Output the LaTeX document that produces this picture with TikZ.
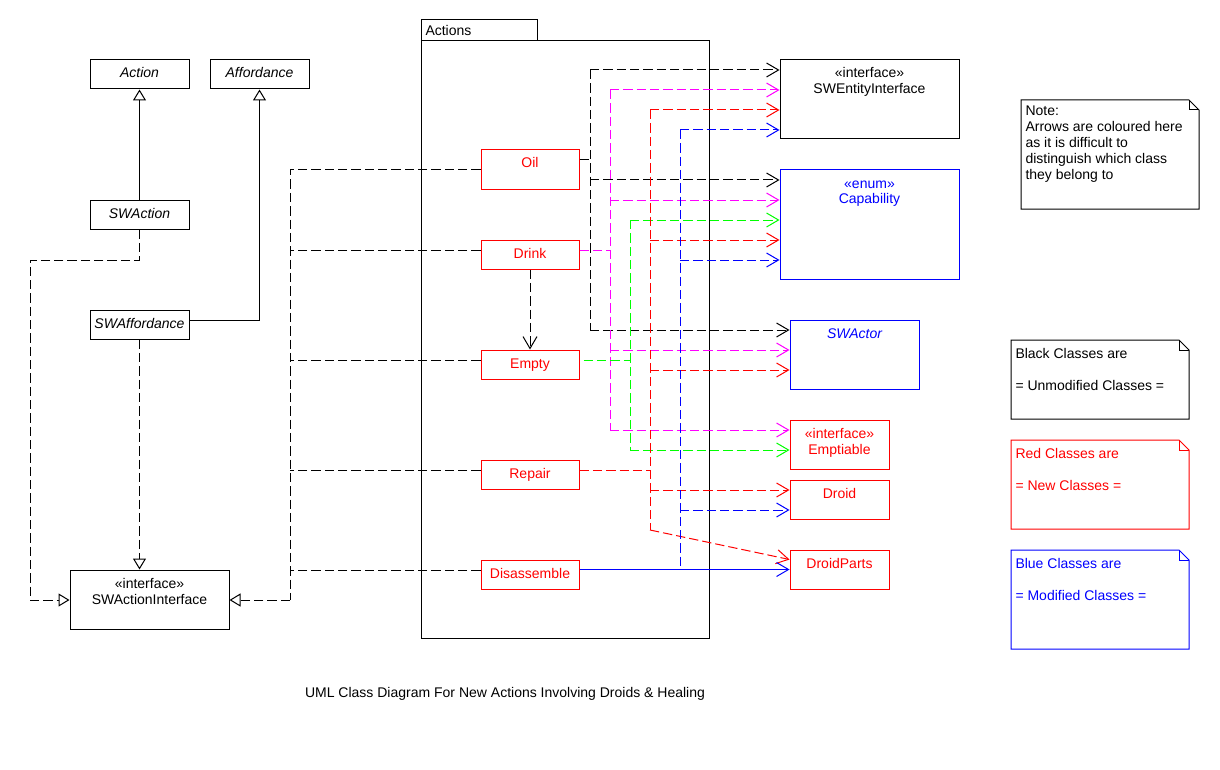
\documentclass[tikz,border=0pt]{standalone}
\usepackage{fontspec}
\setmainfont{Liberation Sans}
\usetikzlibrary{arrows.meta,fit}
\definecolor{mag}{RGB}{255,0,255}
\definecolor{grn}{RGB}{0,255,0}
\definecolor{rd}{RGB}{255,0,0}
\definecolor{bl}{RGB}{0,0,255}
\tikzset{
  box/.style={draw, inner sep=0pt, line width=0.75pt},
  rbox/.style={box, draw=rd},
  bbox/.style={box, draw=bl},
  txt/.style={inner sep=0pt, anchor=base},
  ltxt/.style={inner sep=0pt, anchor=base west},
  dep/.style={dash pattern=on 7pt off 3pt},
  varr/.style={-{Straight Barb[length=9pt,width=10.5pt]}},
  tri/.style={-{Triangle[length=8.25pt,width=9.75pt,fill=white]}},
  notebox/.style={line width=0.75pt, line join=miter}
}
\begin{document}
\begin{tikzpicture}[x=0.75pt,y=-0.75pt,font=\fontsize{10.5}{12}\selectfont,line width=0.75pt]
\useasboundingbox (0,0) rectangle (1220,770);

% ---------- left classes
\node[box, fit={(90,60)(189,89)}] (action) {};
\node[txt] (actiont) at (139.5,78) {\itshape Action};
\node[box, fit={(210,60)(309,89)}] (afford) {};
\node[txt] (affordt) at (259.5,78) {\itshape Affordance};
\node[box, fit={(90,200)(189,229)}] (swaction) {};
\node[txt] (swactiont) at (139.5,218) {\itshape SWAction};
\node[box, fit={(90,310)(189,339)}] (swaff) {};
\node[txt] (swafft) at (139.5,328) {\itshape SWAffordance};
\node[box, fit={(70,570)(229,629)}] (sai) {};
\node[txt] (sait1) at (149.5,588) {«interface»};
\node[txt] (sait2) at (149.5,604) {SWActionInterface};

% ---------- package
\node[box, fit={(421,20)(537,41)}] (pkgtab) {};
\node[box, fit={(421,41)(709,638)}] (pkg) {};
\node[ltxt] (pkgt) at (425,36) {Actions};

\node[rbox, fit={(481,150)(579,189)}] (oil) {};
\node[txt, text=rd] (oilt) at (530,168) {Oil};
\node[rbox, fit={(481,240)(579,269)}] (drink) {};
\node[txt, text=rd] (drinkt) at (530,258) {Drink};
\node[rbox, fit={(481,350)(579,379)}] (empty) {};
\node[txt, text=rd] (emptyt) at (530,368) {Empty};
\node[rbox, fit={(481,460)(579,489)}] (repair) {};
\node[txt, text=rd] (repairt) at (530,478) {Repair};
\node[rbox, fit={(481,560)(579,589)}] (dis) {};
\node[txt, text=rd] (dist) at (530,578) {Disassemble};

% ---------- right classes
\node[box, fit={(780,60)(959,139)}] (ent) {};
\node[txt] (entt1) at (869.5,78) {«interface»};
\node[txt] (entt2) at (869.5,94) {SWEntityInterface};
\node[bbox, fit={(780,170)(959,279)}] (cap) {};
\node[txt, text=bl] (capt1) at (869.5,188) {«enum»};
\node[txt, text=bl] (capt2) at (869.5,204) {Capability};
\node[bbox, fit={(790,320)(919,389)}] (actor) {};
\node[txt, text=bl] (actort) at (854.5,338) {\itshape SWActor};
\node[rbox, fit={(790,420)(889,469)}] (empt) {};
\node[txt, text=rd] (emptt1) at (839.5,438) {«interface»};
\node[txt, text=rd] (emptt2) at (839.5,454) {Emptiable};
\node[rbox, fit={(790,480)(889,519)}] (droid) {};
\node[txt, text=rd] (droidt) at (839.5,498) {Droid};
\node[rbox, fit={(790,550)(889,589)}] (dp) {};
\node[txt, text=rd] (dpt) at (839.5,568) {DroidParts};

% ---------- notes
\draw[notebox] (1021,100) -- (1189,100) -- (1199,110) -- (1199,209) -- (1021,209) -- cycle;
\draw[notebox] (1189,100) -- (1189,110) -- (1199,110);
\node[ltxt] (n1) at (1025,116) {Note:};
\node[ltxt] (n2) at (1025,132) {Arrows are coloured here};
\node[ltxt] (n3) at (1025,148) {as it is difficult to};
\node[ltxt] (n4) at (1025,164) {distinguish which class};
\node[ltxt] (n5) at (1025,180) {they belong to};

\draw[notebox] (1011,340) -- (1179,340) -- (1189,350) -- (1189,419) -- (1011,419) -- cycle;
\draw[notebox] (1179,340) -- (1179,350) -- (1189,350);
\node[ltxt] (bk1) at (1015,358) {Black Classes are};
\node[ltxt] (bk2) at (1015,390) {= Unmodified Classes =};

\draw[notebox, draw=rd] (1011,440) -- (1179,440) -- (1189,450) -- (1189,529) -- (1011,529) -- cycle;
\draw[notebox, draw=rd] (1179,440) -- (1179,450) -- (1189,450);
\node[ltxt, text=rd] (rd1) at (1015,458) {Red Classes are};
\node[ltxt, text=rd] (rd2) at (1015,490) {= New Classes =};

\draw[notebox, draw=bl] (1011,550) -- (1179,550) -- (1189,560) -- (1189,649) -- (1011,649) -- cycle;
\draw[notebox, draw=bl] (1179,550) -- (1179,560) -- (1189,560);
\node[ltxt, text=bl] (bl1) at (1015,568) {Blue Classes are};
\node[ltxt, text=bl] (bl2) at (1015,600) {= Modified Classes =};

\node[txt] (caption) at (505,697) {UML Class Diagram For New Actions Involving Droids \& Healing};

% ---------- left connectors
\draw[tri] (swaction.north) -- (action.south);
\draw[tri] ([yshift=3.375pt]swaff.east) -| (afford.south);
\coordinate (l1) at (30,260);
\coordinate (l2) at (30,600);
\draw[dep,tri] (swaction.south) |- (l1) -- (l2) -- (l2 -| sai.west);
\draw[dep,tri] (swaff.south) -- (swaff.south |- sai.north);

\coordinate (q0) at (290,170);
\coordinate (q1) at (290,250);
\coordinate (q2) at (290,360);
\coordinate (q3) at (290,470);
\coordinate (q4) at (290,570);
\coordinate (q5) at (290,600);
\draw[dep] (q0 -| oil.west) -- (q0) -- (q5);
\draw[dep,tri] (q5) -- (q5 -| sai.east);
\draw[dep] (q1 -| drink.west) -- (q1);
\draw[dep] (q2 -| empty.west) -- (q2);
\draw[dep] (q3 -| repair.west) -- (q3);
\draw[dep] (q4 -| dis.west) -- (q4);

\draw[dep,varr] (drink.south) -- (empty.north);

% ---------- black (Oil)
\coordinate (k0) at (590,160);
\coordinate (k1) at (590,70);
\coordinate (k2) at (590,180);
\coordinate (k3) at (590,330);
\draw[dep] (k0 -| oil.east) -- (k0);
\draw[dep] (k1) -- (k3);
\draw[dep,varr] (k1) -- (k1 -| ent.west);
\draw[dep,varr] (k2) -- (k2 -| cap.west);
\draw[dep,varr] (k3) -- (k3 -| actor.west);

% ---------- magenta (Drink)
\begin{scope}[color=mag]
\coordinate (m0) at (610,250);
\coordinate (m1) at (610,90);
\coordinate (m2) at (610,200);
\coordinate (m3) at (610,350);
\coordinate (m4) at (610,430);
\draw[dep] (m0 -| drink.east) -- (m0);
\draw[dep] (m1) -- (m4);
\draw[dep,varr] (m1) -- (m1 -| ent.west);
\draw[dep,varr] (m2) -- (m2 -| cap.west);
\draw[dep,varr] (m3) -- (m3 -| actor.west);
\draw[dep,varr] (m4) -- (m4 -| empt.west);
\end{scope}

% ---------- green (Empty)
\begin{scope}[color=grn]
\coordinate (g0) at (630,360);
\coordinate (g1) at (630,220);
\coordinate (g2) at (630,450);
\draw[dep] ([xshift=3pt]g0 -| empty.east) -- (g0);
\draw[dep] (g1) -- (g2);
\draw[dep,varr] (g1) -- (g1 -| cap.west);
\draw[dep,varr] (g2) -- (g2 -| empt.west);
\end{scope}

% ---------- red (Repair)
\begin{scope}[color=rd]
\coordinate (r0) at (650,470);
\coordinate (r1) at (650,110);
\coordinate (r2) at (650,240);
\coordinate (r3) at (650,370);
\coordinate (r4) at (650,490);
\coordinate (r5) at (650,530);
\draw[dep] (r0 -| repair.east) -- (r0);
\draw[dep] (r1) -- (r5);
\draw[dep,varr] (r1) -- (r1 -| ent.west);
\draw[dep,varr] (r2) -- (r2 -| cap.west);
\draw[dep,varr] (r3) -- (r3 -| actor.west);
\draw[dep,varr] (r4) -- (r4 -| droid.west);
\draw[dep,varr] (r5) -- ([yshift=-7.5pt]dp.north west);
\end{scope}

% ---------- blue (Disassemble)
\begin{scope}[color=bl]
\coordinate (b1) at (680,130);
\coordinate (b2) at (680,260);
\coordinate (b3) at (680,510);
\coordinate (b4) at (680,567);
\draw[dep] (b1) -- (b4);
\draw[dep,varr] (b1) -- (b1 -| ent.west);
\draw[dep,varr] (b2) -- (b2 -| cap.west);
\draw[dep,varr] (b3) -- (b3 -| droid.west);
\draw[varr] (dp.west -| dis.east) -- (dp.west);
\end{scope}
\end{tikzpicture}
\end{document}
